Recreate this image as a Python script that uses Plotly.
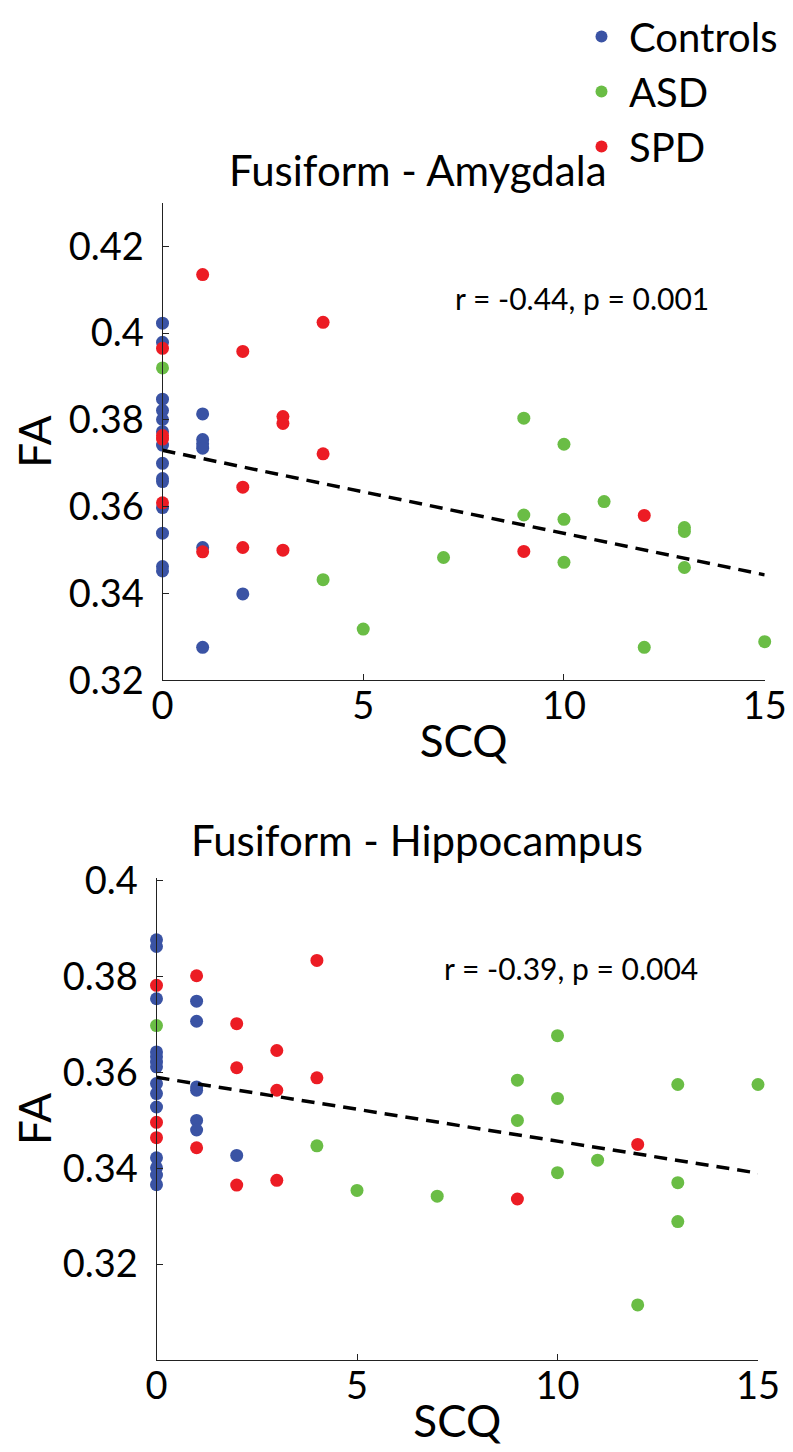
import plotly.graph_objects as go

# ---------------- data: Fusiform - Amygdala ----------------
amy_ctrl_x = [0]*14 + [1]*6 + [2]
amy_ctrl_y = [0.4023, 0.3979, 0.3848, 0.3822, 0.3801, 0.3773, 0.3742, 0.3700, 0.3665, 0.3658,
              0.3598, 0.3539, 0.3462, 0.3452,
              0.3814, 0.3755, 0.3745, 0.3735, 0.3506, 0.3276,
              0.3399]
amy_asd_x = [0, 4, 5, 7, 9, 9, 10, 10, 10, 11, 12, 13, 13, 13, 15]
amy_asd_y = [0.3920, 0.3432, 0.3318, 0.3483, 0.3804, 0.3581, 0.3744, 0.3571, 0.3472, 0.3612,
             0.3276, 0.3552, 0.3543, 0.3460, 0.3289]
amy_spd_x = [0, 0, 0, 0, 1, 1, 2, 2, 2, 3, 3, 3, 4, 4, 9, 12]
amy_spd_y = [0.3965, 0.3764, 0.3756, 0.3609, 0.4135, 0.3496, 0.3958, 0.3645, 0.3506,
             0.3808, 0.3792, 0.3500, 0.4025, 0.3722, 0.3497, 0.3580]
amy_fit_x = [0, 15]
amy_fit_y = [0.3730, 0.3443]

# ---------------- data: Fusiform - Hippocampus ----------------
hip_ctrl_x = [0]*14 + [1]*6 + [2]
hip_ctrl_y = [0.3877, 0.3863, 0.3754, 0.3643, 0.3633, 0.3622, 0.3612, 0.3577, 0.3556, 0.3528,
              0.3422, 0.3401, 0.3386, 0.3366,
              0.3749, 0.3707, 0.3570, 0.3563, 0.3500, 0.3480,
              0.3427]
hip_asd_x = [0, 4, 5, 7, 9, 9, 10, 10, 10, 11, 12, 13, 13, 13, 15]
hip_asd_y = [0.3698, 0.3447, 0.3354, 0.3342, 0.3584, 0.3500, 0.3677, 0.3546, 0.3391, 0.3417,
             0.3115, 0.3575, 0.3370, 0.3289, 0.3575]
hip_spd_x = [0, 0, 0, 1, 1, 2, 2, 2, 3, 3, 3, 4, 4, 9, 12]
hip_spd_y = [0.3782, 0.3496, 0.3464, 0.3802, 0.3443, 0.3702, 0.3610, 0.3365,
             0.3646, 0.3563, 0.3375, 0.3834, 0.3589, 0.3336, 0.3450]
hip_fit_x = [0, 15]
hip_fit_y = [0.3590, 0.3390]

x_ticks = [0, 5, 10, 15]
amy_y_ticks = [0.32, 0.34, 0.36, 0.38, 0.40, 0.42]
amy_y_labels = ["0.32", "0.34", "0.36", "0.38", "0.4", "0.42"]
hip_y_ticks = [0.32, 0.34, 0.36, 0.38, 0.40]
hip_y_labels = ["0.32", "0.34", "0.36", "0.38", "0.4"]

groups = ["Controls", "ASD", "SPD"]
colors = ["#3A53A4", "#6ABD45", "#EC1C24"]
titles = ["Fusiform - Amygdala", "Fusiform - Hippocampus"]
stats = ["r = -0.44, p = 0.001", "r = -0.39, p = 0.004"]

FONT = "Lato"
W, H = 793, 1452

fig = go.Figure()

amy = [(amy_ctrl_x, amy_ctrl_y), (amy_asd_x, amy_asd_y), (amy_spd_x, amy_spd_y)]
hip = [(hip_ctrl_x, hip_ctrl_y), (hip_asd_x, hip_asd_y), (hip_spd_x, hip_spd_y)]

for (gx, gy), name, c in zip(amy, groups, colors):
    fig.add_trace(go.Scatter(x=gx, y=gy, mode="markers", name=name,
                             marker=dict(color=c, size=13, line=dict(width=0)),
                             xaxis="x", yaxis="y", showlegend=True, cliponaxis=False))
fig.add_trace(go.Scatter(x=amy_fit_x, y=amy_fit_y, mode="lines", showlegend=False,
                         line=dict(color="black", width=3.5, dash="13px,8px"),
                         xaxis="x", yaxis="y"))
for (gx, gy), name, c in zip(hip, groups, colors):
    fig.add_trace(go.Scatter(x=gx, y=gy, mode="markers", name=name,
                             marker=dict(color=c, size=13, line=dict(width=0)),
                             xaxis="x2", yaxis="y2", showlegend=False, cliponaxis=False))
fig.add_trace(go.Scatter(x=hip_fit_x, y=hip_fit_y, mode="lines", showlegend=False,
                         line=dict(color="black", width=3.5, dash="13px,8px"),
                         xaxis="x2", yaxis="y2"))


def px_x(p):
    return p / W


def px_y(p):
    return 1 - p / H


axis_common = dict(showline=True, linecolor="#222", linewidth=1, ticks="inside",
                   ticklen=6, tickcolor="#222", showgrid=False, zeroline=False,
                   automargin=False,
                   tickfont=dict(family=FONT, size=38, color="black"),
                   title_font=dict(family=FONT, size=44, color="black"))

fig.update_layout(
    width=W, height=H, margin=dict(l=0, r=0, t=0, b=0, autoexpand=False),
    plot_bgcolor="white", paper_bgcolor="white",
    font=dict(family=FONT, color="black"),
    xaxis=dict(domain=[px_x(154.5), px_x(756.7)], range=[0, 15], anchor="y",
               tickvals=x_ticks, ticklabelstandoff=-8,
               title=dict(text="SCQ", standoff=0), **axis_common),
    yaxis=dict(domain=[px_y(672.3), px_y(195)], range=[0.32, 0.43], anchor="x",
               tickvals=amy_y_ticks, ticktext=amy_y_labels, ticklabelstandoff=10,
               title=dict(text="FA", standoff=20), **axis_common),
    xaxis2=dict(domain=[px_x(148.5), px_x(750)], range=[0, 15], anchor="y2",
                tickvals=x_ticks, ticklabelstandoff=-8,
                title=dict(text="SCQ", standoff=0), **axis_common),
    yaxis2=dict(domain=[px_y(1352), px_y(870)], range=[0.30, 0.4006], anchor="x2",
                tickvals=hip_y_ticks, ticktext=hip_y_labels, ticklabelstandoff=10,
                title=dict(text="FA", standoff=20), **axis_common),
    legend=dict(x=px_x(566), y=px_y(-4), xanchor="left", yanchor="top",
                font=dict(family=FONT, size=40, color="black"),
                bgcolor="rgba(0,0,0,0)", itemsizing="constant", itemwidth=45,
                tracegroupgap=0),
    annotations=[
        dict(text=titles[0], x=px_x(410), y=px_y(162), xref="paper", yref="paper",
             xanchor="center", yanchor="middle", showarrow=False,
             font=dict(family=FONT, size=42, color="black")),
        dict(text=stats[0], x=px_x(574), y=px_y(290), xref="paper", yref="paper",
             xanchor="center", yanchor="middle", showarrow=False,
             font=dict(family=FONT, size=30, color="black")),
        dict(text=titles[1], x=px_x(409), y=px_y(832), xref="paper", yref="paper",
             xanchor="center", yanchor="middle", showarrow=False,
             font=dict(family=FONT, size=42, color="black")),
        dict(text=stats[1], x=px_x(563), y=px_y(960), xref="paper", yref="paper",
             xanchor="center", yanchor="middle", showarrow=False,
             font=dict(family=FONT, size=30, color="black")),
    ],
)

fig.write_html("out.html")
